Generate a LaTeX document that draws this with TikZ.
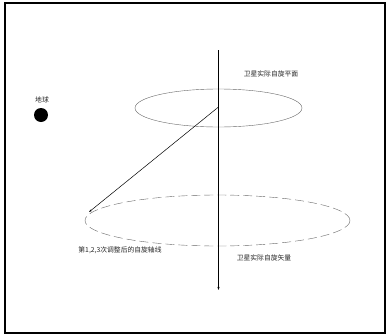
\documentclass[tikz,border=0pt]{standalone}
\usepackage{fontspec}
\newfontfamily\cjk{Noto Sans CJK SC}
\usetikzlibrary{arrows.meta}
\begin{document}
\begin{tikzpicture}[x=1pt,y=-1pt,
  lbl/.style={font=\cjk\fontsize{6.8}{7.5}\selectfont, text=black!85, inner sep=0pt},
  orbit/.style={draw=black!60, line width=0.4pt},
  axis/.style={draw=black, line width=0.5pt, -{Stealth[length=3pt,width=2pt]}}]
\useasboundingbox (0,0) rectangle (386,335);
\draw[line width=1.3pt] (5,3) rectangle (385,333);
% ellipses
\draw[orbit] (218.5,108) ellipse [x radius=83.5, y radius=19];
\draw[orbit, dash pattern=on 9pt off 4pt] (217.5,220.5) ellipse [x radius=132.5, y radius=25.5];
% vertical axis
\coordinate (atop) at (218.5,50);
\coordinate (abot) at (218.5,290);
\draw[axis] (atop) -- (abot);
% spin axis line
\coordinate (c) at (218.5,107);
\coordinate (e) at (89,212);
\draw[axis] (c) -- (e);
% earth
\fill (41,115) circle [radius=7];
\node[lbl] (earth) at (42,100) {地球};
\node[lbl] (t1) at (271,74) {卫星实际自旋平面};
\node[lbl] (t2) at (120,250) {第1,2,3次调整后的自旋轴线};
\node[lbl] (t3) at (264,258) {卫星实际自旋矢量};
\end{tikzpicture}
\end{document}
